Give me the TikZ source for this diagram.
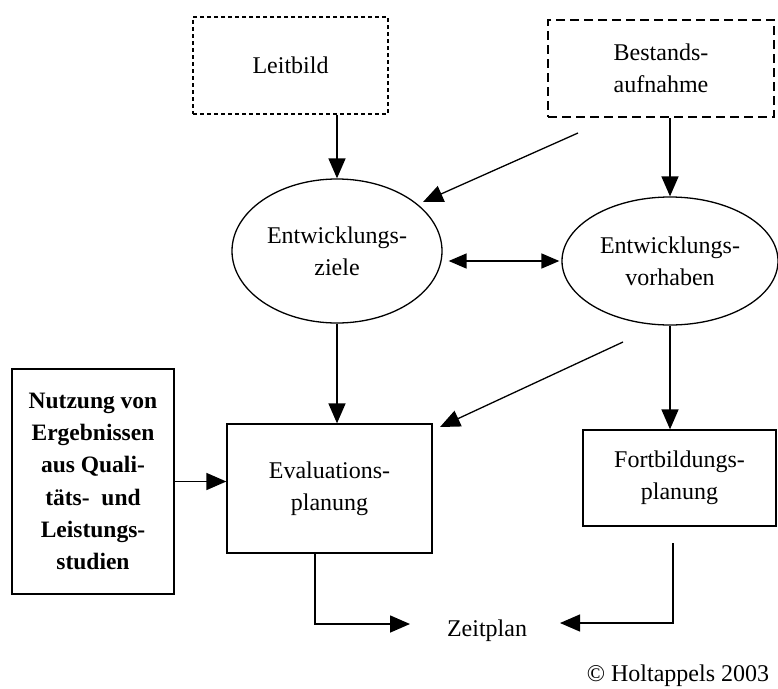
\documentclass[tikz,border=0pt]{standalone}
\usepackage{fontspec}
\setmainfont{Liberation Serif}
\usetikzlibrary{arrows.meta,shapes.geometric}
\begin{document}
\begin{tikzpicture}[x=1pt,y=-1pt,
  txt/.style={font=\fontsize{24}{32}\selectfont, align=center, inner sep=0pt},
  box/.style={txt, draw, line width=1.3pt, rectangle},
  oval/.style={txt, draw, line width=1.3pt, ellipse, inner sep=0pt},
  arr/.style={line width=1.6pt, -{Triangle[length=20pt,width=17pt]}},
  darr/.style={line width=1.6pt, {Triangle[length=18pt,width=15pt]}-{Triangle[length=18pt,width=15pt]}},
  thin arr/.style={line width=1.3pt, -{Triangle[length=20pt,width=17pt]}}
]
\useasboundingbox (0,0) rectangle (778,688);

\node[box, dash pattern=on 4pt off 3pt, minimum width=195pt, minimum height=97pt] (leit) at (290.5,65.5) {Leitbild};
\node[box, line width=2.2pt, dash pattern=on 9pt off 5pt, minimum width=226pt, minimum height=97pt] (best) at (661,68.5) {Bestands-\\aufnahme};

\node[oval, minimum width=210pt, minimum height=144pt] (ez) at (337,251) {Entwicklungs-\\ziele};
\node[oval, minimum width=216pt, minimum height=128pt] (ev) at (670,261) {Entwicklungs-\\vorhaben};

\node[box, minimum width=205pt, minimum height=129pt] (eval) at (329.5,488.5) {Evaluations-\\planung};
\node[box, font=\fontsize{23.5}{32.3}\selectfont\bfseries, minimum width=162pt, minimum height=225pt] (nutz) at (93,481.5) {Nutzung von\\Ergebnissen\\aus Quali-\\täts-\ \ und\\Leistungs-\\studien};
\node[box, minimum width=193pt, minimum height=96pt] (fort) at (679.5,478) {Fortbildungs-\\planung};

\node[txt] (zeit) at (487,631) {Zeitplan};
\node[txt] (copy) at (678,676) {© Holtappels 2003};

\coordinate (d1s) at (578,133);
\coordinate (d1e) at (423,202);
\coordinate (d2s) at (623,342);
\coordinate (d2e) at (440,427);
\coordinate (es) at (315,553);
\coordinate (zl) at (410,624);
\coordinate (fs) at (673,543);
\coordinate (zr) at (560,623);

\draw[arr] (ez.north |- leit.south) -- (ez.north);
\draw[arr] (ev.north |- best.south) -- (ev.north);
\draw[thin arr] (d1s) -- (d1e);
\draw[darr, shorten <=6pt, shorten >=2pt] (ez.east |- ev.west) -- (ev.west);
\draw[arr] (ez.south) -- (ez.south |- eval.north);
\draw[thin arr] (d2s) -- (d2e);
\draw[arr] (ev.south) -- (ev.south |- fort.north);
\draw[arr] (nutz.east) -- (nutz.east -| eval.west);
\draw[arr] (es) |- (zl);
\draw[thin arr] (fs) |- (zr);
\end{tikzpicture}
\end{document}
